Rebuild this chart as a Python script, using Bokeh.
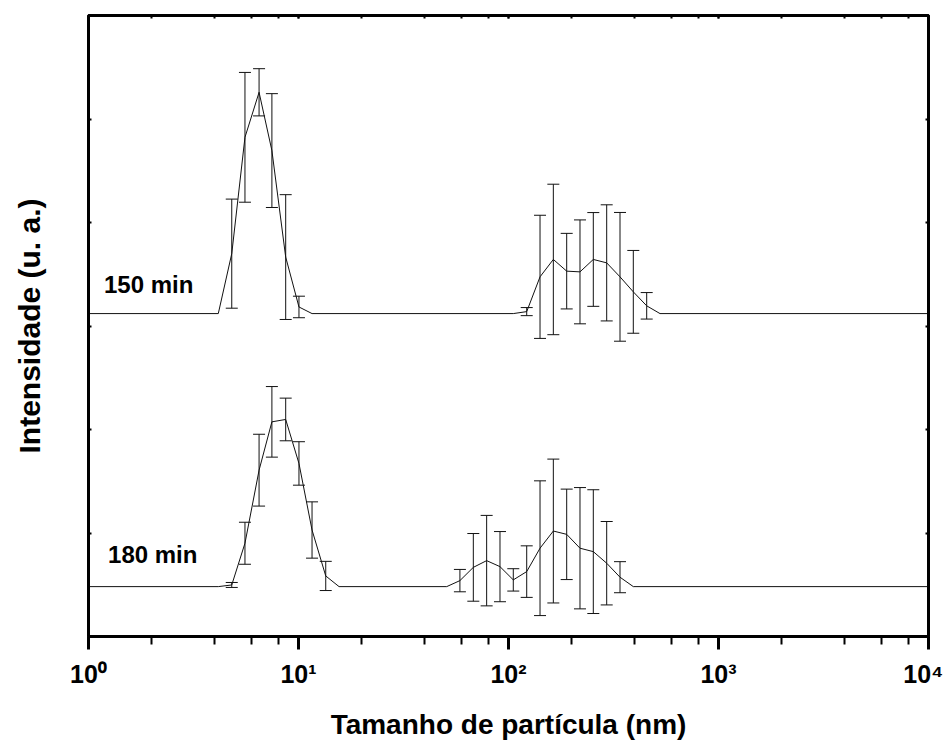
from bokeh.plotting import figure
from bokeh.models import (Range1d, LinearAxis, LogAxis, FixedTicker, LogTicker,
                          Whisker, TeeHead, ColumnDataSource, Label)
from bokeh.embed import file_html
from bokeh.resources import INLINE

# ---------------- data ----------------
# particle size (nm) and intensity above each curve's own baseline (a.u.)
size_150 = [1.0, 4.15, 4.81, 5.56, 6.49, 7.47, 8.69, 10.05, 11.6,
            105.4, 122.1, 141.3, 163.5, 189.3, 219.0, 253.4, 293.5, 339.6,
            392.9, 455.1, 526.6, 10000.0]
int_150 = [0, 0, 0.579, 1.703, 2.138, 1.575, 0.546, 0.064, 0,
           0, 0.019, 0.355, 0.523, 0.41, 0.403, 0.523, 0.49, 0.355,
           0.21, 0.075, 0, 0]
err_150 = [0, 0, 0.527, 0.627, 0.228, 0.55, 0.603, 0.104, 0,
           0, 0.039, 0.595, 0.727, 0.365, 0.502, 0.453, 0.561, 0.622,
           0.40, 0.128, 0, 0]

size_180 = [1.0, 4.15, 4.81, 5.56, 6.49, 7.47, 8.69, 10.05, 11.6, 13.48, 15.6,
            50.8, 58.7, 68.0, 78.7, 91.1, 105.4, 122.1, 141.3, 163.5, 189.3,
            219.0, 253.4, 293.5, 339.6, 392.9, 10000.0]
int_180 = [0, 0, 0.016, 0.419, 1.125, 1.592, 1.615, 1.19, 0.547, 0.103, 0,
           0, 0.058, 0.186, 0.251, 0.193, 0.065, 0.145, 0.371, 0.537, 0.505,
           0.371, 0.338, 0.226, 0.091, 0, 0]
err_180 = [0, 0, 0.024, 0.203, 0.347, 0.341, 0.206, 0.21, 0.272, 0.141, 0,
           0, 0.108, 0.327, 0.437, 0.339, 0.108, 0.249, 0.651, 0.695, 0.437,
           0.586, 0.598, 0.403, 0.15, 0, 0]

offset_150 = 3.12
offset_180 = 0.482

series_labels = ["150 min", "180 min"]
x_tick_values = [1, 10, 100, 1000, 10000]
x_tick_labels = ["10\u2070", "10\u00b9", "10\u00b2", "10\u00b3", "10\u2074"]
y_tick_values = [0, 1, 2, 3, 4, 5, 6]
x_title = "Tamanho de partícula (nm)"
y_title = "Intensidade (u. a.)"

FONT = "Liberation Sans"
INK = "#000000"

p = figure(width=943, height=742, x_axis_type="log",
           x_range=Range1d(1, 10000), y_range=Range1d(0, 6),
           output_backend="svg", toolbar_location=None,
           min_border_left=88, min_border_right=15,
           min_border_top=15, min_border_bottom=105)
p.xgrid.visible = False
p.ygrid.visible = False
p.outline_line_color = INK
p.outline_line_width = 3
p.background_fill_color = "white"
p.border_fill_color = "white"


def add_series(sizes, ints, errs, offset):
    ys = [v + offset for v in ints]
    p.line(sizes, ys, line_color="#111111", line_width=1)
    ex, up, lo = [], [], []
    for s, v, e in zip(sizes, ys, errs):
        if e > 0:
            ex.append(s)
            up.append(v + e)
            lo.append(v - e)
    src = ColumnDataSource(dict(x=ex, upper=up, lower=lo))
    w = Whisker(source=src, base="x", upper="upper", lower="lower",
                line_color="#111111", line_width=1,
                upper_head=TeeHead(size=12, line_width=1, line_color="#111111"),
                lower_head=TeeHead(size=12, line_width=1, line_color="#111111"))
    p.add_layout(w)


add_series(size_150, int_150, err_150, offset_150)
add_series(size_180, int_180, err_180, offset_180)

p.add_layout(Label(x=1.185, y=3.40, text=series_labels[0], text_font=FONT,
                   text_font_style="bold", text_font_size="24px",
                   text_color=INK, text_baseline="alphabetic"))
p.add_layout(Label(x=1.239, y=0.79, text=series_labels[1], text_font=FONT,
                   text_font_style="bold", text_font_size="24px",
                   text_color=INK, text_baseline="alphabetic"))


def blank_labels(ax, ticks):
    ax.major_label_overrides = {v: "" for v in ticks}
    ax.major_label_text_font_size = "1px"
    ax.major_label_standoff = 0


# bottom axis
xa = p.xaxis[0]
xa.ticker = LogTicker()
xa.major_label_overrides = {v: l for v, l in zip(x_tick_values, x_tick_labels)}
xa.axis_label = x_title
xa.axis_label_text_font = FONT
xa.axis_label_text_font_style = "bold"
xa.axis_label_text_font_size = "28px"
xa.axis_label_text_color = INK
xa.axis_label_standoff = 18
xa.major_label_text_font = FONT
xa.major_label_text_font_style = "bold"
xa.major_label_text_font_size = "25px"
xa.major_label_text_color = INK
xa.major_label_standoff = 10
xa.axis_line_width = 3
xa.axis_line_color = INK
xa.major_tick_in = 0
xa.major_tick_out = 13
xa.minor_tick_in = 0
xa.minor_tick_out = 8
xa.major_tick_line_width = 3
xa.minor_tick_line_width = 2
xa.major_tick_line_color = INK
xa.minor_tick_line_color = INK

# left axis (bounds shift the title centre slightly below the frame centre,
# as in the reference; the frame outline still draws the full left edge)
ya = p.yaxis[0]
ya.ticker = FixedTicker(ticks=y_tick_values)
ya.bounds = (0, 5.48)
blank_labels(ya, y_tick_values)
ya.axis_label = y_title
ya.axis_label_text_font = FONT
ya.axis_label_text_font_style = "bold"
ya.axis_label_text_font_size = "30px"
ya.axis_label_text_color = INK
ya.axis_label_standoff = 43
ya.axis_line_width = 3
ya.axis_line_color = INK
ya.major_tick_in = 3
ya.major_tick_out = 0
ya.major_tick_line_width = 2
ya.major_tick_line_color = INK
ya.minor_tick_line_color = None

# right axis
ra = LinearAxis(ticker=FixedTicker(ticks=y_tick_values))
blank_labels(ra, y_tick_values)
ra.axis_line_width = 3
ra.axis_line_color = INK
ra.major_tick_in = 3
ra.major_tick_out = 0
ra.major_tick_line_width = 2
ra.major_tick_line_color = INK
ra.minor_tick_line_color = None
p.add_layout(ra, "right")

# top axis
ta = LogAxis(ticker=LogTicker())
blank_labels(ta, x_tick_values)
ta.axis_line_width = 3
ta.axis_line_color = INK
ta.major_tick_in = 3
ta.major_tick_out = 0
ta.minor_tick_in = 3
ta.minor_tick_out = 0
ta.major_tick_line_width = 2
ta.minor_tick_line_width = 2
ta.major_tick_line_color = INK
ta.minor_tick_line_color = INK
p.add_layout(ta, "above")

open("out.html", "w").write(file_html(p, INLINE))
